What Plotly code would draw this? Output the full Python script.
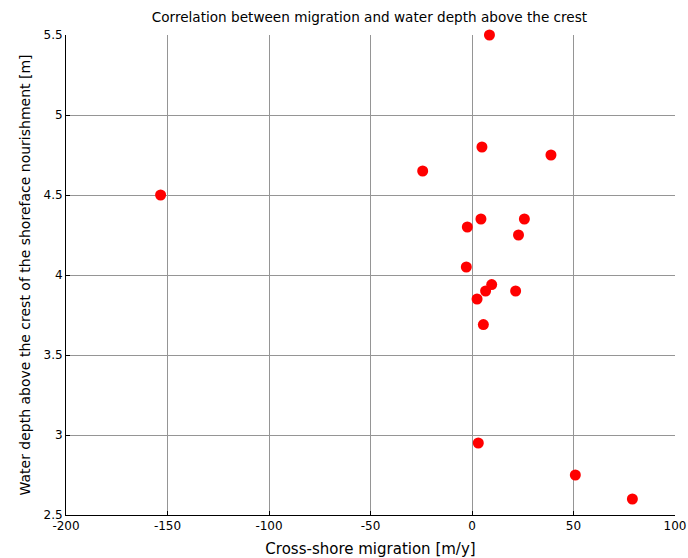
import plotly.graph_objects as go

migration = [8.6, 4.9, 38.9, -24.3, -153.4, 4.4, 25.8, -2.3, 22.9, -2.8, 9.7, 6.7, 21.5, 2.5, 5.6, 3.1, 50.9, 79.0]
depth = [5.5, 4.80, 4.75, 4.65, 4.5, 4.35, 4.35, 4.30, 4.25, 4.05, 3.94, 3.90, 3.90, 3.85, 3.69, 2.95, 2.75, 2.60]

x_ticks = [-200, -150, -100, -50, 0, 50, 100]
y_ticks = [2.5, 3, 3.5, 4, 4.5, 5, 5.5]
y_tick_text = ["2.5", "3", "3.5", "4", "4.5", "5", "5.5"]

fig = go.Figure()
fig.add_trace(go.Scatter(
    x=migration, y=depth, mode="markers",
    marker=dict(color="#ff0000", size=11, line=dict(width=0)),
    cliponaxis=False, showlegend=False,
))

wide = "DejaVu Sans, Verdana, sans-serif"
fig.update_layout(
    width=688, height=558,
    margin=dict(l=66, r=13, t=35, b=43, autoexpand=False),
    paper_bgcolor="white", plot_bgcolor="white",
    font=dict(size=12, family=wide, color="#000000"),
    title=dict(text="Correlation between migration and water depth above the crest",
               x=0.537, xanchor="center", y=0.9695, yanchor="middle",
               font=dict(size=13.6, family=wide, color="#000000")),
    xaxis=dict(
        range=[-200, 100], tickvals=x_ticks, ticktext=[str(v) for v in x_ticks],
        showgrid=True, gridcolor="#959595", gridwidth=1, zeroline=False,
        showline=True, linecolor="black", linewidth=1,
        ticks="inside", ticklen=4, tickcolor="black", automargin=False,
        title=dict(text="Cross-shore migration [m/y]", standoff=12,
                   font=dict(size=15, family=wide, color="#000000")),
        tickfont=dict(size=12, family=wide, color="#000000"),
    ),
    yaxis=dict(
        range=[2.5, 5.5], tickvals=y_ticks, ticktext=y_tick_text,
        showgrid=True, gridcolor="#959595", gridwidth=1, zeroline=False,
        showline=True, linecolor="black", linewidth=1,
        ticks="inside", ticklen=4, tickcolor="black", automargin=False,
        title=dict(text="Water depth above the crest of the shoreface nourishment [m]", standoff=9,
                   font=dict(size=14, family=wide, color="#000000")),
        tickfont=dict(size=12, family=wide, color="#000000"),
    ),
)

fig.write_html(
    "out.html",
    config={"displayModeBar": False},
    post_script="document.body.style.margin='0';document.body.style.overflow='hidden';",
)
